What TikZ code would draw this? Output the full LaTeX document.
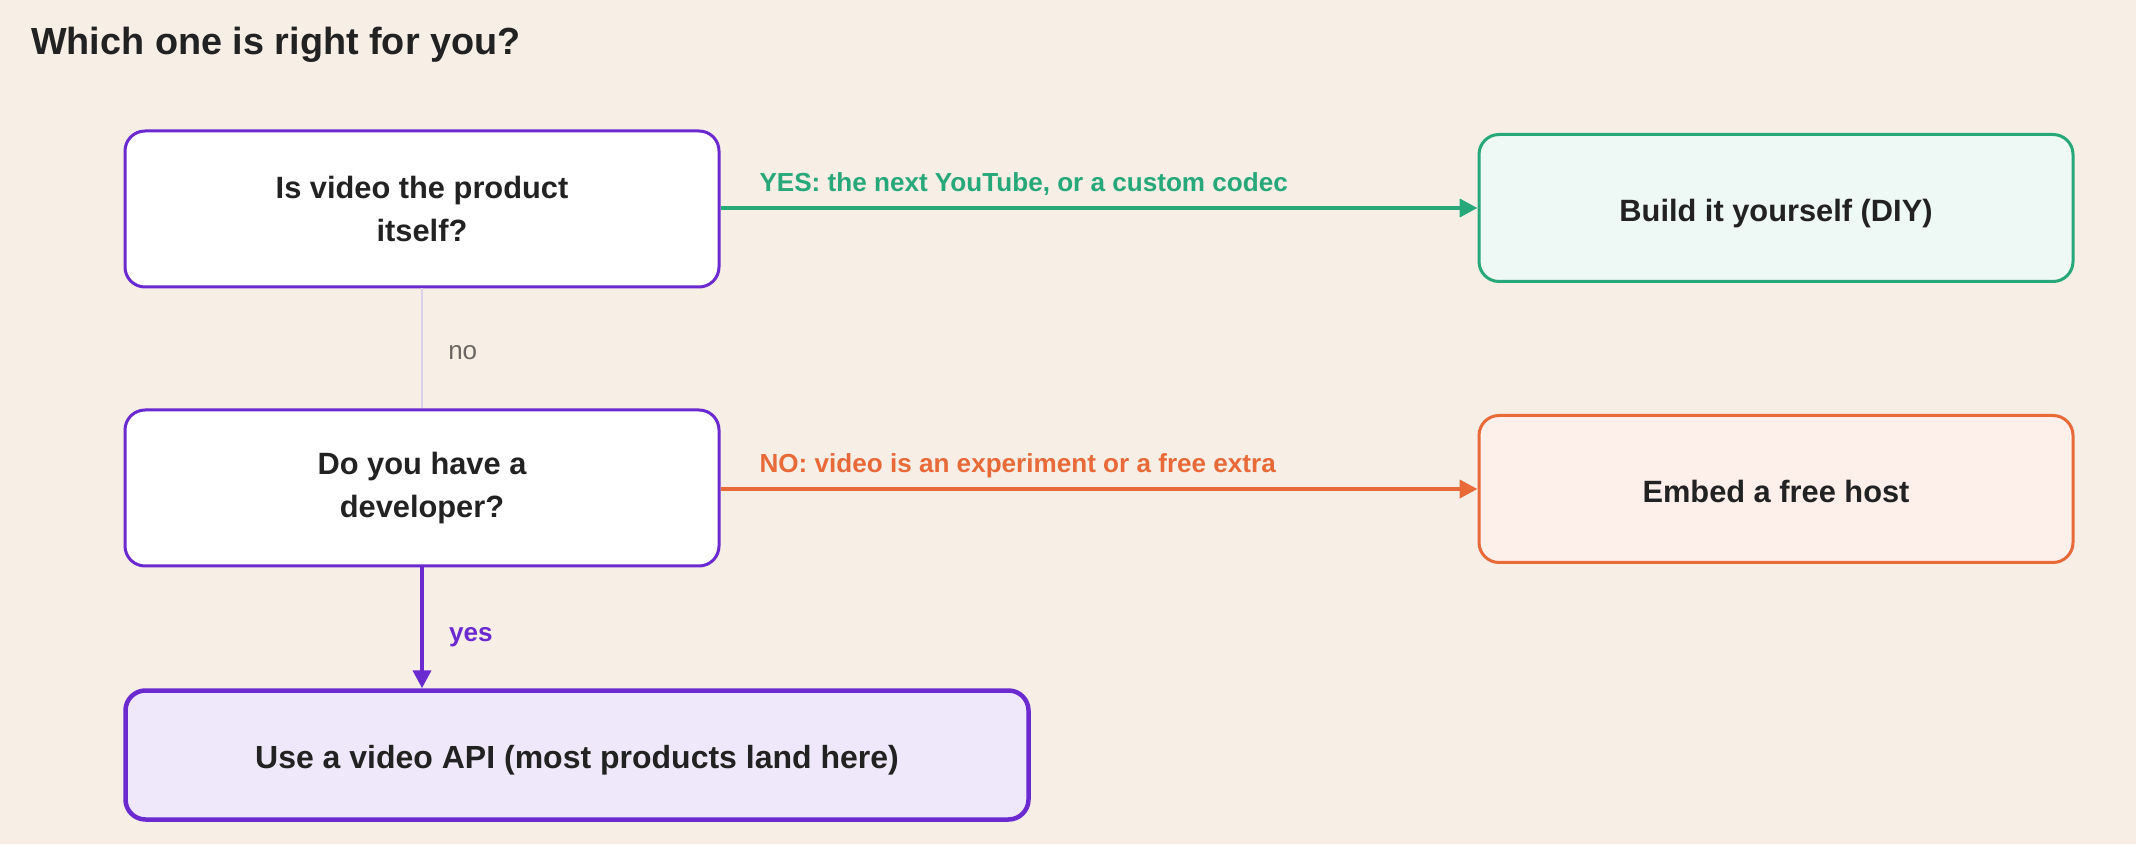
\documentclass[tikz,border=0pt]{standalone}
\usepackage{fontspec}
\setmainfont{Liberation Sans}
\usetikzlibrary{arrows.meta}

\definecolor{bgcream}{HTML}{F7EEE6}
\definecolor{askpurple}{HTML}{6A2ACF}
\definecolor{diygreen}{HTML}{26A878}
\definecolor{hostorange}{HTML}{E76A38}
\definecolor{inkdark}{HTML}{222222}
\definecolor{nogray}{HTML}{6B6662}
\definecolor{noline}{HTML}{DDD2EE}

\begin{document}
\begin{tikzpicture}[x=1pt, y=1pt,
        question/.style={draw=askpurple, fill=white, line width=3pt, rounded corners=20pt,
            minimum width=594pt, minimum height=156pt, align=center, text=inkdark,
            font=\fontsize{30.8}{43}\selectfont\bfseries},
        answer/.style={line width=3pt, rounded corners=20pt, minimum width=594pt,
            minimum height=147pt, text=inkdark, text height=28pt, text depth=0pt,
            font=\fontsize{30.8}{43}\selectfont\bfseries},
        edgetext/.style={inner sep=0pt, font=\fontsize{26.1}{30}\selectfont\bfseries},
        tip/.style={-{Triangle[length=18pt, width=18pt]}, line width=4pt}
    ]
    \fill[bgcream] (0, 0) rectangle (2136, 844);
    \useasboundingbox (0, 0) rectangle (2136, 844);

    \node[anchor=west, inner sep=0pt, text=inkdark, font=\fontsize{37.8}{44}\selectfont\bfseries] (Title) at (31, 799) {Which one is right for you?};

    \node[question] (Product) at (422, 635) {Is video the product\\itself?};
    \node[question] (Developer) at (422, 356) {Do you have a\\developer?};
    \node[answer, draw=diygreen, fill=diygreen!8!white] (DIY) at (1776, 636) {Build it yourself (DIY)};
    \node[answer, draw=hostorange, fill=hostorange!10!white] (Host) at (1776, 355) {Embed a free host};
    \node[answer, draw=askpurple, fill=askpurple!11!white, line width=4.5pt, minimum width=903pt, minimum height=129pt, text height=26pt, font=\fontsize{32}{43}\selectfont\bfseries] (API) at (577, 89) {Use a video API (most products land here)};

    \draw[tip, diygreen] (Product.east |- DIY) -- node[edgetext, pos=0, anchor=base west, xshift=37pt, yshift=16pt]{YES: the next YouTube, or a custom codec} (DIY);
    \draw[tip, hostorange] (Developer.east |- Host) -- node[edgetext, pos=0, anchor=base west, xshift=37pt, yshift=16pt]{NO: video is an experiment or a free extra} (Host);
    \draw[noline, line width=2.5pt] (Product) -- node[inner sep=0pt, anchor=west, xshift=25pt, yshift=-4pt, text=nogray, font=\fontsize{26}{30}\selectfont]{no} (Developer);
    \draw[tip, askpurple] (Developer) -- node[edgetext, anchor=west, xshift=25pt, yshift=-9pt, text=askpurple]{yes} (API.north -| Developer);
\end{tikzpicture}
\end{document}
